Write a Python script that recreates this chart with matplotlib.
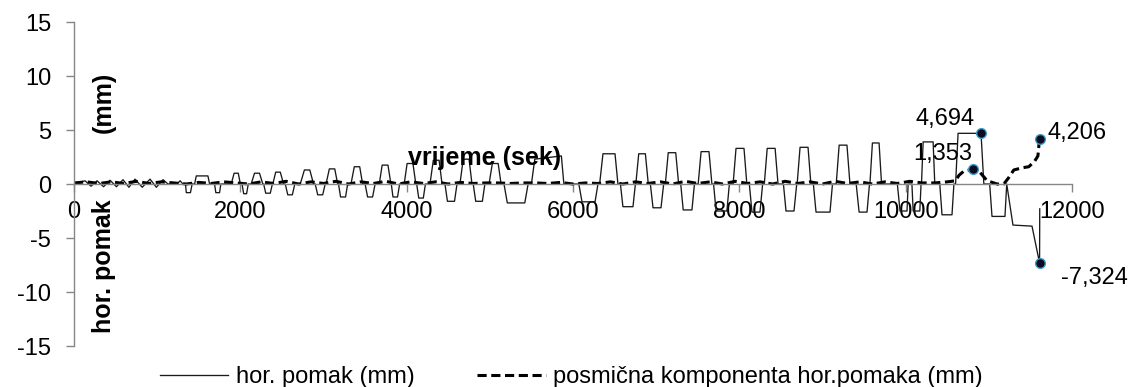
# -*- coding: utf-8 -*-

import matplotlib
matplotlib.use('Agg')
import matplotlib.pyplot as plt

plt.rcParams['font.family'] = ['Liberation Sans', 'DejaVu Sans']

# hor. pomak (mm), one cycle per row
hor_time = [0, 60, 132, 205, 277, 355, 433, 510, 589, 660, 733, 820, 914, 990, 1070, 1130,
            1240, 1275, 1310, 1340, 1350, 1400, 1420,
            1450, 1470, 1610, 1630,
            1690, 1705, 1750, 1765,
            1890, 1925, 1975, 2000,
            2020, 2040, 2075, 2095,
            2130, 2170, 2230, 2270,
            2280, 2305, 2360, 2385,
            2390, 2425, 2480, 2520,
            2540, 2570, 2625, 2655,
            2720, 2770, 2835, 2880,
            2900, 2930, 2990, 3020,
            3030, 3070, 3135, 3170,
            3180, 3205, 3265, 3290,
            3330, 3370, 3435, 3470,
            3500, 3530, 3590, 3620,
            3670, 3705, 3775, 3810,
            3815, 3835, 3890, 3915,
            3970, 4005, 4075, 4110,
            4120, 4145, 4200, 4225,
            4280, 4320, 4390, 4425,
            4460, 4490, 4575, 4605,
            4640, 4680, 4750, 4785,
            4800, 4830, 4910, 4940,
            4990, 5030, 5100, 5135,
            5170, 5210, 5420, 5460,
            5500, 5540, 5860, 5890,
            6070, 6108, 6265, 6300,
            6320, 6360, 6505, 6540,
            6570, 6600, 6721, 6750,
            6755, 6790, 6870, 6905,
            6930, 6962, 7058, 7090,
            7110, 7145, 7235, 7270,
            7295, 7325, 7430, 7460,
            7505, 7540, 7635, 7670,
            7690, 7720, 7850, 7880,
            7925, 7960, 8056, 8090,
            8120, 8152, 8248, 8280,
            8300, 8335, 8430, 8465,
            8530, 8561, 8657, 8690,
            8695, 8730, 8826, 8860,
            8890, 8922, 9090, 9120,
            9165, 9200, 9294, 9330,
            9405, 9440, 9535, 9565,
            9570, 9600, 9680, 9710,
            9900, 9932, 10016, 10030,
            10075, 10090, 10170, 10185,
            10190, 10210, 10330, 10350,
            10410, 10437, 10557, 10580,
            10600, 10630, 10906, 10940,
            11010, 11038, 11194, 11215,
            11290, 11519, 11610, 11612]
hor_disp = [0, 0.15, 0.3, -0.2, 0.3, -0.25, 0.35, -0.25, 0.4, -0.3, 0.45, -0.3, 0.45, -0.3, 0.4, 0,
            0, 0.3, 0, 0, -0.8, -0.8, 0,
            0, 0.75, 0.75, 0,
            0, -0.8, -0.8, 0,
            0, 1.0, 1.0, 0,
            0, -0.9, -0.9, 0,
            0, 1.0, 1.0, 0,
            0, -0.85, -0.85, 0,
            0, 1.1, 1.1, 0,
            0, -1.0, -1.0, 0,
            0, 1.3, 1.3, 0,
            0, -1.0, -1.0, 0,
            0, 1.4, 1.4, 0,
            0, -1.2, -1.2, 0,
            0, 1.6, 1.6, 0,
            0, -1.2, -1.2, 0,
            0, 1.75, 1.75, 0,
            0, -1.2, -1.2, 0,
            0, 1.9, 1.9, 0,
            0, -1.3, -1.3, 0,
            0, 2.2, 2.2, 0,
            0, -1.6, -1.6, 0,
            0, 2.3, 2.3, 0,
            0, -1.6, -1.6, 0,
            0, 1.9, 1.9, 0,
            0, -1.75, -1.75, 0,
            0, 2.3, 2.6, 0,
            0, -1.65, -1.65, 0,
            0, 2.8, 2.8, 0,
            0, -2.1, -2.1, 0,
            0, 2.8, 2.8, 0,
            0, -2.2, -2.2, 0,
            0, 2.9, 2.9, 0,
            0, -2.4, -2.4, 0,
            0, 3.0, 3.0, 0,
            0, -2.5, -2.5, 0,
            0, 3.3, 3.3, 0,
            0, -2.6, -2.6, 0,
            0, 3.3, 3.3, 0,
            0, -2.5, -2.5, 0,
            0, 3.4, 3.4, 0,
            0, -2.6, -2.6, 0,
            0, 3.6, 3.6, 0,
            0, -2.6, -2.6, 0,
            0, 3.8, 3.8, 0,
            0, -2.5, -2.5, 0,
            0, -2.5, -2.5, 0,
            0, 3.9, 3.9, 0,
            0, -2.85, -2.85, 0,
            0, 4.694, 4.694, 0,
            0, -3.0, -3.0, 0,
            -3.8, -3.9, -7.324, -2.3]

# posmična komponenta hor.pomaka (mm)
shear_time = [0, 150, 300, 450, 600, 750, 900, 1050, 1200, 1350,
              1500, 1650, 1800, 1950, 2100, 2250, 2400, 2550, 2700, 2850,
              3000, 3150, 3300, 3450, 3600, 3750, 3900, 4050, 4200, 4350,
              4500, 4650, 4800, 4950, 5100, 5250, 5400, 5550, 5700, 5850,
              6000, 6150, 6300, 6450, 6600, 6750, 6900, 7050, 7200, 7350,
              7500, 7650, 7800, 7950, 8100, 8250, 8400, 8550, 8700, 8850,
              9000, 9150, 9300, 9450, 9600, 9750, 9900, 10050, 10200, 10350,
              10500, 10600, 10640, 10700, 10810, 10880, 10980, 11100, 11180, 11240,
              11300, 11400, 11480, 11550, 11590, 11610]
shear_disp = [0.1, 0.2, 0.05, 0.2, 0.05, 0.25, 0.05, 0.2, 0.1, 0.0,
              0.15, 0.05, 0.2, 0.1, 0.0, 0.2, 0.05, 0.25, 0.0, 0.2,
              0.05, 0.25, 0.0, 0.2, 0.05, 0.25, 0.0, 0.2, 0.05, 0.2,
              0.0, 0.15, 0.05, 0.1, 0.1, 0.05, 0.1, 0.1, 0.05, 0.15,
              0.0, 0.1, 0.05, 0.2, 0.0, 0.2, 0.05, 0.2, 0.0, 0.25,
              0.05, 0.2, 0.0, 0.25, 0.05, 0.2, 0.0, 0.25, 0.05, 0.2,
              0.0, 0.25, 0.05, 0.2, 0.0, 0.2, 0.05, 0.25, 0.1, 0.1,
              0.2, 0.3, 0.8, 1.2, 1.353, 1.2, 0.3, 0.0, 0.0, 0.6,
              1.3, 1.5, 1.6, 2.1, 2.6, 4.206]

# points that carry a data label in the original
hor_marked_time = [10906, 11610]
hor_marked_disp = [4.694, -7.324]
shear_marked_time = [10810, 11610]
shear_marked_disp = [1.353, 4.206]

x_ticks = [0, 2000, 4000, 6000, 8000, 10000, 12000]
y_ticks = [-15, -10, -5, 0, 5, 10, 15]

axis_grey = '#868686'

fig = plt.figure(figsize=(11.32, 3.87), dpi=100)
ax = fig.add_axes([0.0654, 0.1059, 0.8816, 0.8372])

ax.plot(hor_time, hor_disp, color='#1a1a1a', lw=0.95, label='hor. pomak (mm)')
ax.plot(shear_time, shear_disp, color='black', lw=2.2, dashes=(3, 1.5),
        label='posmična komponenta hor.pomaka (mm)')

marker_style = dict(ls='none', marker='o', ms=7, mfc='#0b0b22', mec='#3c9cc4', mew=1.0)
ax.plot(hor_marked_time, hor_marked_disp, **marker_style)
ax.plot(shear_marked_time, shear_marked_disp, **marker_style)

ax.annotate('4,694', (hor_marked_time[0], hor_marked_disp[0]), xytext=(-6, 3),
            textcoords='offset pixels', ha='right', va='bottom', fontsize=17)
ax.annotate('-7,324', (hor_marked_time[1], hor_marked_disp[1]), xytext=(21, -15),
            textcoords='offset pixels', ha='left', va='center', fontsize=17)
ax.annotate('1,353', (shear_marked_time[0], shear_marked_disp[0]), xytext=(-1, 4),
            textcoords='offset pixels', ha='right', va='bottom', fontsize=17)
ax.annotate('4,206', (shear_marked_time[1], shear_marked_disp[1]), xytext=(8, 6),
            textcoords='offset pixels', ha='left', va='center', fontsize=17)

ax.set_xlim(0, 12000)
ax.set_ylim(-15, 15)
ax.set_xticks(x_ticks)
ax.set_yticks(y_ticks)
ax.set_xticklabels([str(t) for t in x_ticks])
ax.set_yticklabels([str(t) for t in y_ticks])

for side in ['top', 'right']:
    ax.spines[side].set_visible(False)
ax.spines['bottom'].set_position(('data', 0))
for side in ['left', 'bottom']:
    ax.spines[side].set_color(axis_grey)
    ax.spines[side].set_linewidth(1.0)
ax.tick_params(axis='both', direction='out', length=5.5, width=1.0, color=axis_grey,
               labelsize=17, labelcolor='black')
ax.tick_params(axis='y', pad=11)
ax.tick_params(axis='x', pad=7)

# axis titles sit inside the plot like in the original sheet
fig.text(485 / 1132, 1 - 158 / 387, 'vrijeme (sek)', ha='center', va='center',
         fontsize=18, fontweight='bold')
fig.text(104 / 1132, 1 - 266 / 387, 'hor. pomak', ha='center', va='center',
         rotation=90, fontsize=18, fontweight='bold')
fig.text(104 / 1132, 1 - 102 / 387, '(mm)', ha='center', va='center',
         rotation=90, fontsize=18, fontweight='bold')

fig.legend(loc='center left', bbox_to_anchor=(160 / 1132, 1 - 377 / 387),
           bbox_transform=fig.transFigure, ncol=2, frameon=False, fontsize=17,
           borderpad=0, borderaxespad=0, handlelength=2.9, handletextpad=0.3,
           columnspacing=2.67)

plt.savefig('out.png', dpi=100)
